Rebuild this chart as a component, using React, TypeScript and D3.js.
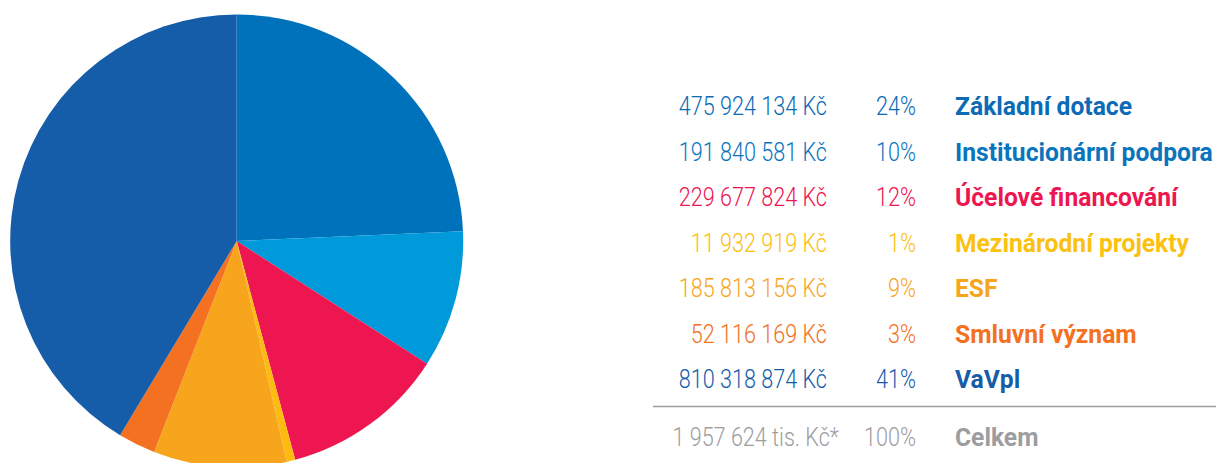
import * as d3 from 'd3';
import React, { useRef, useEffect } from 'react';

const dimensions = { width: 1216, height: 463 };

const categories = [
  'Základní dotace',
  'Institucionární podpora',
  'Účelové financování',
  'Mezinárodní projekty',
  'ESF',
  'Smluvní význam',
  'VaVpl'
];
const amounts = [475924134, 191840581, 229677824, 11932919, 185813156, 52116169, 810318874];
const colors = ['#0072bb', '#0099da', '#ed1651', '#fdbb11', '#f7a51d', '#f37121', '#155ca9'];
const textColors = ['#0b6bb5', '#0875bd', '#ed1651', '#fcc010', '#f7a51d', '#f37121', '#155ca9'];
const totalLabel = 'Celkem';
const totalColor = '#9d9d9f';

const App = () => {
  const { width, height } = dimensions;
  const svgRef = useRef<SVGSVGElement>(null);

  useEffect(() => {
    const svg = d3.select(svgRef.current);
    svg.selectAll('*').remove();

    const total = d3.sum(amounts);
    const fmt = (v: number) => d3.format(',')(v).replace(/,/g, ' ');

    // pie
    const cx = 236.7, cy = 241, r = 226.5;
    const pie = d3.pie<number>().sort(null).value(d => d);
    const arc = d3.arc<d3.PieArcDatum<number>>().innerRadius(0).outerRadius(r);

    svg.append('g')
      .attr('transform', `translate(${cx},${cy})`)
      .selectAll('path')
      .data(pie(amounts))
      .join('path')
      .attr('d', arc)
      .attr('fill', (_, i) => colors[i]);

    // legend table
    const rowY = d3.scaleLinear().domain([0, categories.length - 1]).range([115, 388]);
    const amountX = 827, pctX = 916, labelX = 955;

    const txt = (x: number, y: number, s: string, color: string, anchor: string, bold: boolean) =>
      svg.append('text')
        .attr('transform', `translate(${x},${y}) scale(${bold ? 0.93 : 0.865},1)`)
        .attr('text-anchor', anchor)
        .attr('font-family', 'Roboto, "Liberation Sans", sans-serif')
        .attr('font-size', bold ? 26.5 : 25)
        .attr('font-weight', bold ? 700 : 300)
        .attr('fill', color)
        .text(s);

    categories.forEach((c, i) => {
      const y = rowY(i);
      txt(amountX, y, `${fmt(amounts[i])} Kč`, textColors[i], 'end', false);
      txt(pctX, y, `${Math.round(amounts[i] / total * 100)}%`, textColors[i], 'end', false);
      txt(labelX, y, c, textColors[i], 'start', true);
    });

    svg.append('line')
      .attr('x1', 653).attr('x2', width)
      .attr('y1', 406.5).attr('y2', 406.5)
      .attr('stroke', '#9d9d9f')
      .attr('stroke-width', 1.5);

    const yT = 446;
    txt(amountX + 12, yT, `${fmt(Math.round(total / 1000))} tis. Kč*`, totalColor, 'end', false);
    txt(pctX, yT, '100%', totalColor, 'end', false);
    txt(labelX, yT, totalLabel, totalColor, 'start', true);
  }, []);

  return (
    <svg ref={svgRef} width={width} height={height}
      style={{ position: 'absolute', left: 0, top: 0, background: '#fff' }} />
  );
};

export default App;
